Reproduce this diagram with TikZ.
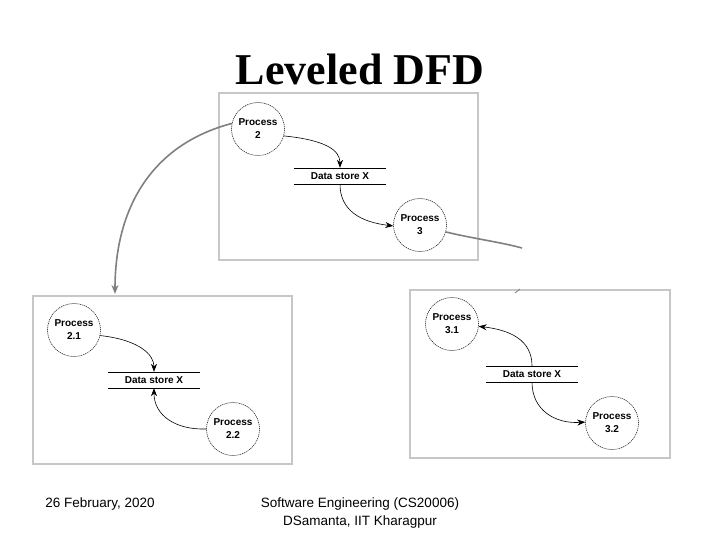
\documentclass[tikz,border=0pt]{standalone}
\usepackage{fontspec}
\setmainfont{Liberation Sans}
\newfontfamily\titlefont{Liberation Serif}
\usetikzlibrary{arrows.meta}
\begin{document}
\begin{tikzpicture}[x=1pt,y=-1pt,
 proc/.style={circle,draw,dash pattern=on 1.2pt off 0.8pt,line width=0.5pt,minimum size=53pt,inner sep=0pt,font=\fontsize{10}{13}\selectfont\bfseries,align=center},
 store/.style={minimum width=92pt,minimum height=16pt,inner sep=0pt,font=\fontsize{10}{12}\selectfont\bfseries},
 panel/.style={draw=black!22,line width=1.2pt},
 flow/.style={-{Stealth[length=8pt,width=6pt]},line width=0.6pt},
 link/.style={draw=black!50,line width=1.6pt},
 foot/.style={anchor=base,font=\fontsize{13.5}{16}\selectfont},
]
\useasboundingbox (0,0) rectangle (720,540);
\fill[white] (0,0) rectangle (720,540);

% title
\node[anchor=base] (title) at (360,85) {\titlefont\bfseries\fontsize{44}{50}\selectfont Leveled DFD};

% panels
\draw[panel] (219,93) rectangle (478,260);
\draw[panel] (33,296) rectangle (292,464);
\draw[panel] (410,290) rectangle (670,458);

% top panel
\node[proc] (p2) at (258,129) {Process\\2};
\node[store] (ds1) at (340,176) {Data store X};
\draw (ds1.north west) -- (ds1.north east) (ds1.south west) -- (ds1.south east);
\node[proc] (p3) at (420,225) {Process\\3};
\draw[flow] (p2.-15) .. controls (325,140) and (340,150) .. (ds1.north);
\draw[flow] (ds1.south) .. controls (340,210) and (360,222) .. (p3.182);

% left panel
\node[proc] (p21) at (74,330) {Process\\2.1};
\node[store] (ds2) at (154,380) {Data store X};
\draw (ds2.north west) -- (ds2.north east) (ds2.south west) -- (ds2.south east);
\node[proc] (p22) at (233,429) {Process\\2.2};
\draw[flow] (p21.-12) .. controls (140,340) and (154,355) .. (ds2.north);
\draw[flow] (p22.180) .. controls (175,430) and (154,415) .. (ds2.south);

% right panel
\node[proc] (p31) at (452,324) {Process\\3.1};
\node[store] (ds3) at (532,374) {Data store X};
\draw (ds3.north west) -- (ds3.north east) (ds3.south west) -- (ds3.south east);
\node[proc] (p32) at (612,423) {Process\\3.2};
\draw[flow] (ds3.north) .. controls (532,340) and (510,330) .. (p31.-5);
\draw[flow] (ds3.south) .. controls (532,410) and (555,424) .. (p32.178);

% links between levels
\coordinate (down) at (115,294);
\coordinate (rend) at (522,248);
\draw[link,-{Stealth[length=9pt,width=7pt]}] (p2.168) .. controls (150,145) and (115,210) .. (down);
\draw[link] (p3.-15) .. controls (470,238) and (500,242) .. (rend);
\coordinate (tk1) at (515,293);
\coordinate (tk2) at (520,289);
\draw[draw=black!50,line width=0.8pt] (tk1) -- (tk2);

% footer
\node[foot] (date) at (100,507) {26 February, 2020};
\node[foot] (course) at (360,507) {Software Engineering (CS20006)};
\node[foot] (author) at (360,525) {DSamanta, IIT Kharagpur};
\end{tikzpicture}
\end{document}
